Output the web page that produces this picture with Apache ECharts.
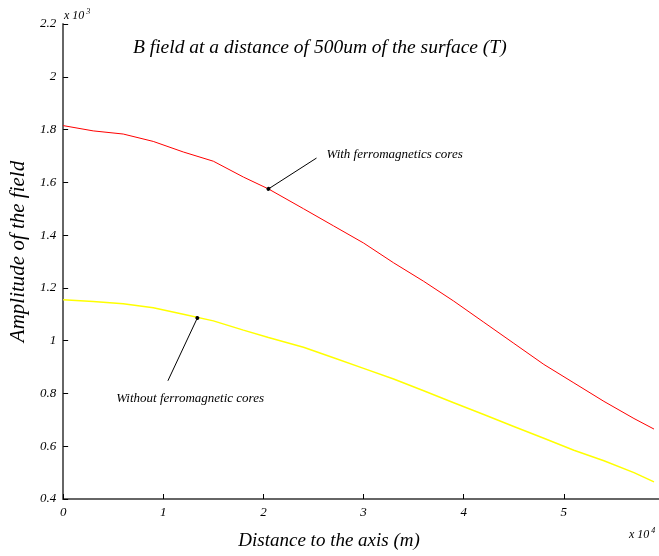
<!DOCTYPE html>
<html>
<head>
<meta charset="utf-8">
<script src="https://cdn.jsdelivr.net/npm/echarts@6/dist/echarts.min.js"></script>
<style>
html,body{margin:0;padding:0;background:#fff;}
#chart{width:659px;height:556px;}
</style>
</head>
<body>
<div id="chart"></div>
<script>
// Distance (x 10^4 m)
var xValues = [0, 0.3, 0.6, 0.9, 1.2, 1.5, 1.8, 2.05, 2.4, 2.7, 3.0, 3.3, 3.6, 3.9, 4.2, 4.5, 4.8, 5.1, 5.4, 5.7, 5.9];
// With ferromagnetic cores (x 10^3 T)
var withCores = [1.815, 1.795, 1.783, 1.755, 1.715, 1.68, 1.62, 1.575, 1.50, 1.435, 1.37, 1.295, 1.225, 1.15, 1.07, 0.99, 0.91, 0.84, 0.77, 0.705, 0.665];
// Without ferromagnetic cores (x 10^3 T)
var withoutCores = [1.155, 1.148, 1.14, 1.125, 1.10, 1.075, 1.04, 1.012, 0.975, 0.935, 0.895, 0.855, 0.81, 0.765, 0.72, 0.675, 0.63, 0.585, 0.545, 0.50, 0.465];
var xTicks = [0, 1, 2, 3, 4, 5];
var yTicks = [0.4, 0.6, 0.8, 1, 1.2, 1.4, 1.6, 1.8, 2, 2.2];
// annotation anchors (data coords)
var annWith = {point: [2.05, 1.575], end: [2.53, 1.692], text: [2.63, 1.704], label: 'With ferromagnetics cores'};
var annWithout = {point: [1.34, 1.086], end: [1.046, 0.848], text: [0.53, 0.78], label: 'Without ferromagnetic cores'};

function pairs(xs, ys){ return xs.map(function(x,i){ return [x, ys[i]]; }); }

var font = 'Liberation Serif';
var supRich = {a: {fontFamily: font, fontStyle: 'italic', fontWeight: 'normal', fontSize: 12, color: '#000'},
               s: {fontFamily: font, fontStyle: 'italic', fontWeight: 'normal', fontSize: 8, color: '#000', verticalAlign: 'top', padding: [0,0,8,2]}};
var chart = echarts.init(document.getElementById('chart'));
chart.setOption({
  animation: false,
  backgroundColor: '#fff',
  title: [
    {text: 'B field at a distance of 500um of the surface (T)', left: 128, top: 33,
     textStyle: {fontFamily: font, fontStyle: 'italic', fontWeight: 'normal', fontSize: 19.5, color: '#000'}},
    {text: '{a|x 10}{s|3}', left: 59, top: 3, textStyle: {rich: supRich}},
    {text: '{a|x 10}{s|4}', left: 624, top: 522, textStyle: {rich: supRich}}
  ],
  grid: {left: 62, right: 0, top: 24, bottom: 57, containLabel: false},
  xAxis: {
    type: 'value', min: 0, max: 5.95, interval: 1,
    name: 'Distance to the axis (m)', nameLocation: 'middle', nameGap: 32,
    nameTextStyle: {fontFamily: font, fontStyle: 'italic', fontSize: 19, color: '#000', padding: [0, 64, 0, 0]},
    axisLine: {lineStyle: {color: '#666', width: 2}},
    axisTick: {inside: true, length: 5, lineStyle: {color: '#000'}, customValues: xTicks},
    axisLabel: {fontFamily: font, fontStyle: 'italic', fontSize: 13, color: '#000', margin: 7, customValues: xTicks},
    splitLine: {show: false}
  },
  yAxis: {
    type: 'value', min: 0.4, max: 2.2, interval: 0.2,
    name: 'Amplitude of the field', nameLocation: 'middle', nameGap: 30, nameRotate: 90,
    nameTextStyle: {fontFamily: font, fontStyle: 'italic', fontSize: 21, color: '#000', padding: [0, 0, 0, 20]},
    axisLine: {show: true, lineStyle: {color: '#666', width: 2}},
    axisTick: {show: true, inside: true, length: 5, lineStyle: {color: '#000'}, customValues: yTicks},
    axisLabel: {fontFamily: font, fontStyle: 'italic', fontSize: 13, color: '#000', margin: 7, customValues: yTicks,
                formatter: function(v){ return String(Math.round(v*10)/10); }},
    splitLine: {show: false}
  },
  series: [
    {type: 'line', name: 'with', data: pairs(xValues, withCores), symbol: 'none', smooth: false,
     lineStyle: {color: '#ff0000', width: 1}, z: 2,
     markLine: {silent: true, symbol: ['circle', 'none'], symbolSize: 4, label: {show: false},
       lineStyle: {color: '#000', width: 1, type: 'solid'}, itemStyle: {color: '#000'},
       data: [[{coord: annWith.point}, {coord: annWith.end}]]},
     markPoint: {silent: true, symbol: 'circle', symbolSize: 0,
       data: [{coord: annWith.text, label: {show: true, position: 'right', distance: 0, formatter: annWith.label,
         fontFamily: font, fontStyle: 'italic', fontSize: 13, color: '#000'}}]}
    },
    {type: 'line', name: 'without', data: pairs(xValues, withoutCores), symbol: 'none', smooth: false,
     lineStyle: {color: '#ffff00', width: 1.5}, z: 2,
     markLine: {silent: true, symbol: ['circle', 'none'], symbolSize: 4, label: {show: false},
       lineStyle: {color: '#000', width: 1, type: 'solid'}, itemStyle: {color: '#000'},
       data: [[{coord: annWithout.point}, {coord: annWithout.end}]]},
     markPoint: {silent: true, symbol: 'circle', symbolSize: 0,
       data: [{coord: annWithout.text, label: {show: true, position: 'right', distance: 0, formatter: annWithout.label,
         fontFamily: font, fontStyle: 'italic', fontSize: 13, color: '#000'}}]}
    }
  ]
});
</script>
</body>
</html>
